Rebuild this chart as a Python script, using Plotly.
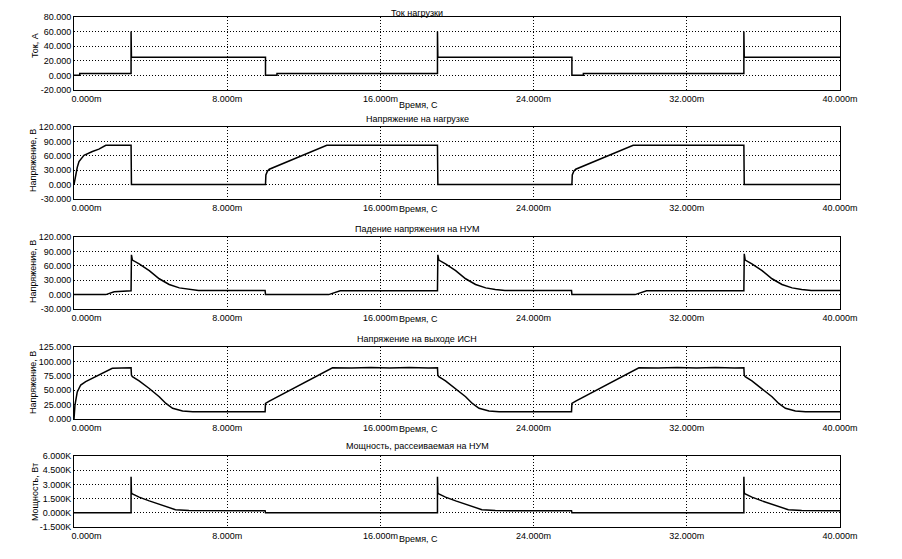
import plotly.graph_objects as go

# ---- data (time in ms) ----
time_ticks = [0, 8, 16, 24, 32, 40]

# Ток нагрузки, А
cur_t = [0, 0.3, 0.3, 2.98, 2.98, 3.0, 10.0, 10.0, 10.6, 10.6, 18.98, 18.98, 19.0,
         26.0, 26.0, 26.6, 26.6, 34.98, 34.98, 35.0, 40.0]
cur_v = [0.3, 0.3, 2.5, 2.5, 60, 25, 25, 0.3, 0.3, 2.5, 2.5, 60, 25,
         25, 0.3, 0.3, 2.5, 2.5, 60, 25, 25]
cur_ticks = [-20, 0, 20, 40, 60, 80]

# Напряжение на нагрузке, В
load_t = [0, 0.05, 0.09, 0.17, 0.26, 0.52, 0.96, 1.3, 1.66, 2.98, 3.0, 10.0, 10.02, 10.1,
          10.2, 13.2, 18.98, 19.0, 26.0, 26.02, 26.1, 26.2, 29.2, 34.98, 35.0, 40.0]
load_v = [0, 12, 21, 36, 48, 61, 69, 74, 82, 82, 0, 0, 20, 28,
          32, 82, 82, 0, 0, 20, 28, 32, 82, 82, 0, 0]
volt_ticks = [-30, 0, 30, 60, 90, 120]

# Падение напряжения на НУМ, В
num_t = [0, 1.66, 2.1, 2.98, 3.0, 3.05, 3.4, 3.93, 4.45, 4.97, 5.5, 6.0, 6.5, 9.98, 10.0,
         13.3, 13.9, 18.98, 19.0, 19.05, 19.4, 19.93, 20.45, 20.97, 21.5, 22.0, 22.5, 25.98,
         26.0, 29.3, 29.9, 34.98, 35.0, 35.05, 35.4, 35.93, 36.45, 36.97, 37.5, 38.0, 38.5, 40.0]
num_v = [0, 0, 6, 8, 83, 72, 64, 50, 33, 21, 14, 10.5, 8.5, 8.5, 0,
         0, 8, 8, 83, 72, 64, 50, 33, 21, 14, 10.5, 8.5, 8.5,
         0, 0, 8, 8, 85, 72, 64, 50, 33, 21, 14, 10.5, 8.5, 8.5]

# Напряжение на выходе ИСН, В
isn_t = [0, 0.05, 0.17, 0.35, 0.61, 1.14, 1.66, 2.0, 2.98, 3.0, 3.05, 3.4, 3.93, 4.45, 4.8,
         5.15, 5.67, 6.2, 9.98, 10.0, 10.2, 13.5, 14.5, 15.5, 16.5, 17.5, 18.5, 18.98,
         19.0, 19.05, 19.4, 19.93, 20.45, 20.8, 21.15, 21.67, 22.2, 25.98, 26.0, 26.2, 29.5,
         30.5, 31.5, 32.5, 33.5, 34.5, 34.98, 35.0, 35.05, 35.4, 35.93, 36.45, 36.8, 37.15,
         37.67, 38.2, 40.0]
isn_v = [0, 24, 47, 59, 65, 73.5, 82, 88, 89, 76, 73.5, 66, 53, 38.7, 27,
         18.5, 14, 12.7, 12.7, 27, 31, 89, 88.5, 89.5, 88.5, 89.5, 88.5, 89,
         76, 73.5, 66, 53, 38.7, 27, 18.5, 14, 12.7, 12.7, 27, 31, 89,
         88.5, 89.5, 88.5, 89.5, 88.5, 89, 76, 73.5, 66, 53, 38.7, 27, 18.5,
         14, 12.7, 12.7]
isn_ticks = [0, 25, 50, 75, 100, 125]

# Мощность, рассеиваемая на НУМ, Вт
pw_t = [0, 2.98, 2.98, 3.0, 3.05, 3.4, 3.93, 4.45, 4.8, 5.3, 6.0, 9.98, 10.0,
        18.98, 18.98, 19.0, 19.05, 19.4, 19.93, 20.45, 20.8, 21.3, 22.0, 25.98, 26.0,
        34.98, 34.98, 35.0, 35.05, 35.4, 35.93, 36.45, 36.8, 37.3, 38.0, 40.0]
pw_v = [0, 0, 3800, 2100, 2000, 1650, 1260, 880, 630, 330, 230, 220, 0,
        0, 3800, 2100, 2000, 1650, 1260, 880, 630, 330, 230, 220, 0,
        0, 3800, 2100, 2000, 1650, 1260, 880, 630, 330, 230, 220]
pw_ticks = [-1500, 0, 1500, 3000, 4500, 6000]

titles = ["Ток нагрузки", "Напряжение на нагрузке", "Падение напряжения на НУМ",
          "Напряжение на выходе ИСН", "Мощность, рассеиваемая на НУМ"]
ylabels = ["Ток, А", "Напряжение, В", "Напряжение, В", "Напряжение, В", "Мощность, Вт"]

# ---- layout helpers (window pixel positions; page body has an 8px margin) ----
WIN_W, WIN_H = 902, 559
OFF = 8
W, H = WIN_W - 2 * OFF, WIN_H - 2 * OFF
FONT = dict(family="Liberation Sans", size=9, color="black")

def fx(x):
    return (x - OFF) / W

def fy(y):
    return 1 - (y - OFF) / H

plot_left, plot_right = 74, 840
# (top, bottom) of each panel in pixels
panels = [(17, 90), (127, 199), (237, 309), (347, 419), (456, 527)]
title_y = [13, 119, 229, 339, 446]
xtitle_y = [105, 209, 319, 429, 539]
ylabel_x = [35, 33, 33, 33, 35]
ylabel_y = [46, 161, 272, 383, 492]

series = [(cur_t, cur_v), (load_t, load_v), (num_t, num_v), (isn_t, isn_v), (pw_t, pw_v)]
yticks = [cur_ticks, volt_ticks, volt_ticks, isn_ticks, pw_ticks]
ytext = [
    [f"{v:.3f}" for v in cur_ticks],
    [f"{v:.3f}" for v in volt_ticks],
    [f"{v:.3f}" for v in volt_ticks],
    [f"{v:.3f}" for v in isn_ticks],
    [f"{v / 1000:.3f}K" for v in pw_ticks],
]
xtext = [f"{t:.3f}m" for t in time_ticks]
xtext[0] = "\u00a0" * 10 + xtext[0]

fig = go.Figure()
layout = dict(
    width=W, height=H,
    margin=dict(l=0, r=0, t=0, b=0),
    plot_bgcolor="white", paper_bgcolor="white",
    font=FONT, showlegend=False,
)
annotations = []

for i, ((t, v), (top, bot)) in enumerate(zip(series, panels), start=1):
    fig.add_trace(go.Scatter(
        x=t, y=v, mode="lines",
        line=dict(color="black", width=1.5),
        xaxis=f"x{i}", yaxis=f"y{i}",
        hoverinfo="skip", showlegend=False,
    ))
    common = dict(
        showgrid=True, griddash="1px,2px", gridcolor="black", gridwidth=1,
        showline=True, mirror=True, linecolor="black", linewidth=1,
        zeroline=False, ticks="", tickfont=FONT, automargin=False,
    )
    layout[f"xaxis{i}"] = dict(
        domain=[fx(plot_left), fx(plot_right)], anchor=f"y{i}",
        range=[0, 40], tickvals=time_ticks, ticktext=xtext, **common,
    )
    yt = yticks[i - 1]
    layout[f"yaxis{i}"] = dict(
        domain=[fy(bot), fy(top)], anchor=f"x{i}",
        range=[yt[0], yt[-1]], tickvals=yt, ticktext=ytext[i - 1], **common,
    )
    annotations.append(dict(
        text=titles[i - 1], x=fx(417), y=fy(title_y[i - 1]), xref="paper", yref="paper",
        showarrow=False, font=FONT, xanchor="center", yanchor="middle",
    ))
    annotations.append(dict(
        text="Время, С", x=fx(418), y=fy(xtitle_y[i - 1]), xref="paper", yref="paper",
        showarrow=False, font=FONT, xanchor="center", yanchor="middle",
    ))
    annotations.append(dict(
        text=ylabels[i - 1], x=fx(ylabel_x[i - 1]), y=fy(ylabel_y[i - 1]),
        xref="paper", yref="paper", textangle=-90,
        showarrow=False, font=FONT, xanchor="center", yanchor="middle",
    ))

layout["annotations"] = annotations
fig.update_layout(**layout)

fig.write_html("out.html")
